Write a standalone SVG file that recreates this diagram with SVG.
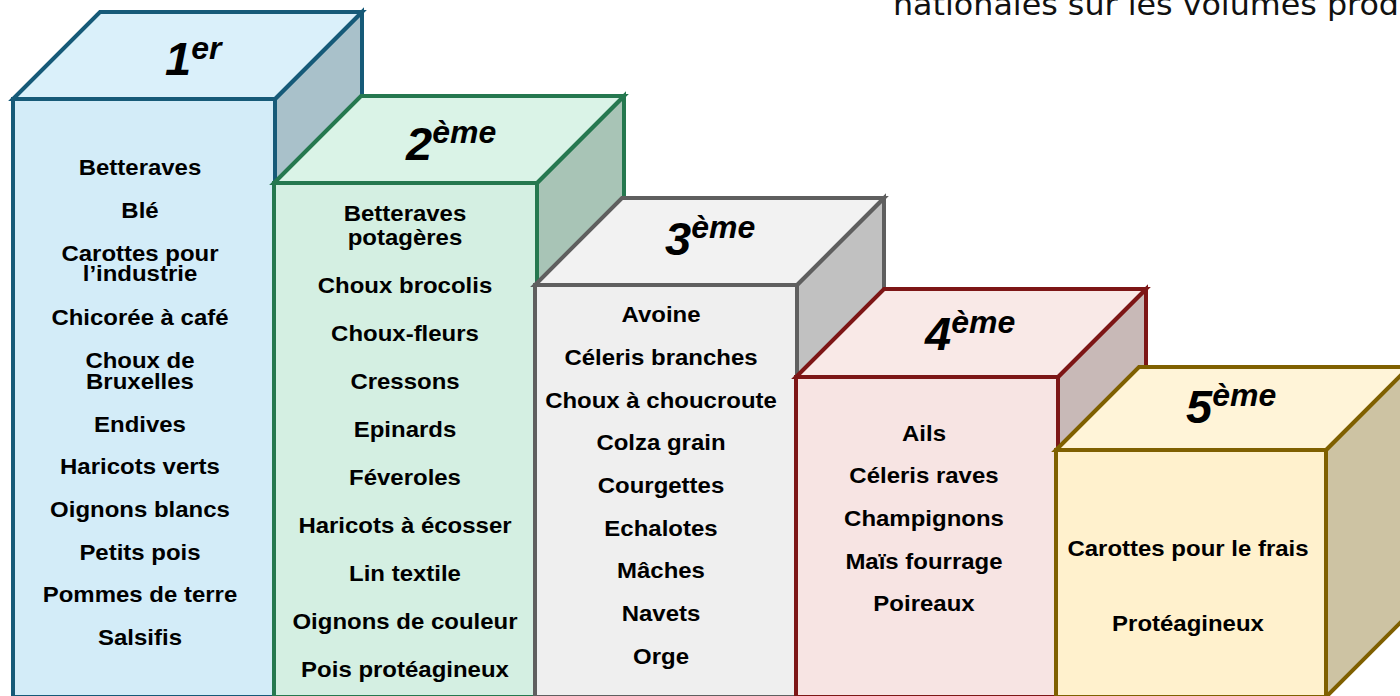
<svg xmlns="http://www.w3.org/2000/svg" width="1400" height="696" viewBox="0 0 1400 696">
<style>
.sh{stroke-width:4;stroke-linejoin:miter}
.b1 .sh{stroke:#165a78}.b2 .sh{stroke:#25784f}.b3 .sh{stroke:#5f5f5f}.b4 .sh{stroke:#7d1616}.b5 .sh{stroke:#7f6000}
.lbl{font-family:"Liberation Sans",Arial,sans-serif;font-weight:bold;font-size:22px;fill:#000;text-anchor:middle}
.hd{font-family:"Liberation Sans",Arial,sans-serif;font-weight:bold;font-style:italic;font-size:47px;fill:#000}
.sup{font-size:32px}
.cap{font-family:"DejaVu Sans",Verdana,sans-serif;font-size:30px;fill:#111}
</style>
<rect width="1400" height="696" fill="#fff"/>
<text class="cap" x="893" y="15" textLength="506" lengthAdjust="spacingAndGlyphs">nationales sur les volumes prod</text>

<g id="box1" class="b1">
<polygon class="sh" points="275,99 362,12 362,610 275,697" fill="#a9c1ca"/>
<polygon class="sh" points="13,99 100,12 362,12 275,99" fill="#daf0fa"/>
<rect class="sh" x="13" y="99" width="262" height="598" fill="#d3ecf8"/>
<g transform="matrix(1.09,0,0,1,-12.6,0)">
<text class="lbl" x="140" y="175">Betteraves</text>
<text class="lbl" x="140" y="218">Blé</text>
<text class="lbl" x="140" y="261">Carottes pour</text>
<text class="lbl" x="140" y="281">l’industrie</text>
<text class="lbl" x="140" y="325">Chicorée à café</text>
<text class="lbl" x="140" y="368">Choux de</text>
<text class="lbl" x="140" y="389">Bruxelles</text>
<text class="lbl" x="140" y="432">Endives</text>
<text class="lbl" x="140" y="474">Haricots verts</text>
<text class="lbl" x="140" y="517">Oignons blancs</text>
<text class="lbl" x="140" y="560">Petits pois</text>
<text class="lbl" x="140" y="602">Pommes de terre</text>
<text class="lbl" x="140" y="645">Salsifis</text>
</g>
<text class="hd" x="165" y="75">1<tspan class="sup" dy="-16">er</tspan></text>
</g>

<g id="box2" class="b2">
<polygon class="sh" points="537,183 624,96 624,610 537,697" fill="#a8c4b6"/>
<polygon class="sh" points="274,183 361,96 624,96 537,183" fill="#daf3e7"/>
<rect class="sh" x="274" y="183" width="263" height="514" fill="#d4efe2"/>
<g transform="matrix(1.09,0,0,1,-36.45,0)">
<text class="lbl" x="405" y="221">Betteraves</text>
<text class="lbl" x="405" y="245">potagères</text>
<text class="lbl" x="405" y="293">Choux brocolis</text>
<text class="lbl" x="405" y="341">Choux-fleurs</text>
<text class="lbl" x="405" y="389">Cressons</text>
<text class="lbl" x="405" y="437">Epinards</text>
<text class="lbl" x="405" y="485">Féveroles</text>
<text class="lbl" x="405" y="533">Haricots à écosser</text>
<text class="lbl" x="405" y="581">Lin textile</text>
<text class="lbl" x="405" y="629">Oignons de couleur</text>
<text class="lbl" x="405" y="677">Pois protéagineux</text>
</g>
<text class="hd" x="406" y="160">2<tspan class="sup" dy="-17">ème</tspan></text>
</g>

<g id="box3" class="b3">
<polygon class="sh" points="797,285 884,198 884,610 797,697" fill="#c1c1c1"/>
<polygon class="sh" points="535,285 622,198 884,198 797,285" fill="#f2f2f2"/>
<rect class="sh" x="535" y="285" width="262" height="412" fill="#efefef"/>
<g transform="matrix(1.09,0,0,1,-59.49,0)">
<text class="lbl" x="661" y="322">Avoine</text>
<text class="lbl" x="661" y="365">Céleris branches</text>
<text class="lbl" x="661" y="408">Choux à choucroute</text>
<text class="lbl" x="661" y="450">Colza grain</text>
<text class="lbl" x="661" y="493">Courgettes</text>
<text class="lbl" x="661" y="536">Echalotes</text>
<text class="lbl" x="661" y="578">Mâches</text>
<text class="lbl" x="661" y="621">Navets</text>
<text class="lbl" x="661" y="664">Orge</text>
</g>
<text class="hd" x="665" y="255">3<tspan class="sup" dy="-17">ème</tspan></text>
</g>

<g id="box4" class="b4">
<polygon class="sh" points="1058,377 1146,289 1146,609 1058,697" fill="#c8b9b7"/>
<polygon class="sh" points="796,377 884,289 1146,289 1058,377" fill="#f9e9e7"/>
<rect class="sh" x="796" y="377" width="262" height="320" fill="#f7e4e3"/>
<g transform="matrix(1.09,0,0,1,-83.16,0)">
<text class="lbl" x="924" y="441">Ails</text>
<text class="lbl" x="924" y="483">Céleris raves</text>
<text class="lbl" x="924" y="526">Champignons</text>
<text class="lbl" x="924" y="569">Maïs fourrage</text>
<text class="lbl" x="924" y="611">Poireaux</text>
</g>
<text class="hd" x="925" y="350">4<tspan class="sup" dy="-17">ème</tspan></text>
</g>

<g id="box5" class="b5">
<polygon class="sh" points="1326,450 1409,367 1409,614 1326,697" fill="#cdc3a3"/>
<polygon class="sh" points="1056,450 1139,367 1409,367 1326,450" fill="#fff4d8"/>
<rect class="sh" x="1056" y="450" width="270" height="247" fill="#fff1cd"/>
<g transform="matrix(1.09,0,0,1,-106.92,0)">
<text class="lbl" x="1188" y="556">Carottes pour le frais</text>
<text class="lbl" x="1188" y="631">Protéagineux</text>
</g>
<text class="hd" x="1186" y="423">5<tspan class="sup" dy="-17">ème</tspan></text>
</g>
</svg>
